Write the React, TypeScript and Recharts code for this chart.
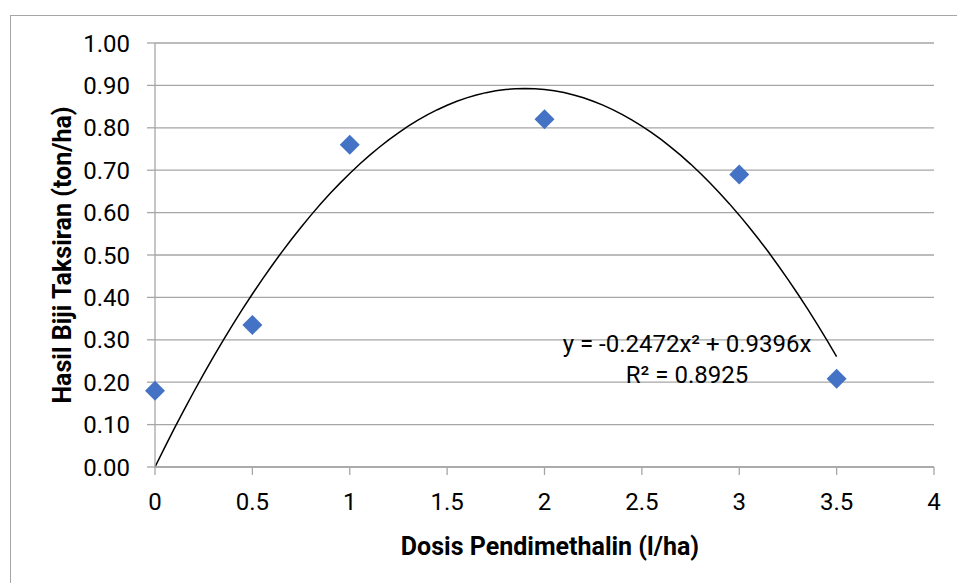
import React from "react";
import {
  ComposedChart,
  Scatter,
  Line,
  XAxis,
  YAxis,
  CartesianGrid,
  Customized,
  Label,
} from "recharts";

const doses = [0, 0.5, 1, 2, 3, 3.5];
const yields = [0.18, 0.335, 0.76, 0.82, 0.69, 0.208];
const xTicks = [0, 0.5, 1, 1.5, 2, 2.5, 3, 3.5, 4];
const yTicks = [0, 0.1, 0.2, 0.3, 0.4, 0.5, 0.6, 0.7, 0.8, 0.9, 1.0];
// Trendline coefficients as printed on the chart: y = a x^2 + b x
const coefA = -0.2472;
const coefB = 0.9396;
const trendStart = 0;
const trendEnd = 3.5;
const trendSteps = 70;

const scatterData = doses.map((x, i) => ({ x, y: yields[i] }));
const trendData = Array.from({ length: trendSteps + 1 }, (_, i) => {
  const x = trendStart + ((trendEnd - trendStart) * i) / trendSteps;
  return { x, t: coefA * x * x + coefB * x };
});

const GRID = "#a6a6a6";
const FONT = "Roboto, 'Noto Sans', sans-serif";

const Diamond = (props: any) => {
  const { cx, cy } = props;
  const r = 10;
  return (
    <polygon
      points={`${cx},${cy - r} ${cx + r},${cy} ${cx},${cy + r} ${cx - r},${cy}`}
      fill="#4472C4"
    />
  );
};

const Equation = () => (
  <g fontFamily={FONT} fontSize={24} fill="#000">
    <text x={687} y={352} textAnchor="middle">
      y = -0.2472x² + 0.9396x
    </text>
    <text x={687} y={383} textAnchor="middle">
      R² = 0.8925
    </text>
  </g>
);

export default function App() {
  return (
    <div
      style={{
        position: "absolute",
        left: 0,
        top: 0,
        width: 957,
        height: 583,
        overflow: "hidden",
        background: "#fff",
      }}
    >
      <div
        style={{
          position: "absolute",
          left: 10,
          top: 15,
          width: 1200,
          height: 1200,
          borderTop: `1.5px solid ${GRID}`,
          borderLeft: `1.5px solid ${GRID}`,
        }}
      />
      <div style={{ position: "absolute", left: 0, top: 0 }}>
        <ComposedChart
          width={957}
          height={583}
          margin={{ top: 43, right: 23, bottom: 0, left: 0 }}
        >
          <CartesianGrid horizontal vertical={false} stroke={GRID} strokeWidth={1.3} />
          <XAxis
            type="number"
            dataKey="x"
            domain={[0, 4]}
            ticks={xTicks}
            height={116}
            tickSize={8}
            tickMargin={18}
            stroke={GRID}
            strokeWidth={1.3}
            tick={{ fill: "#000", fontSize: 24, fontFamily: FONT }}
          >
            <Label
              content={() => (
                <text
                  x={550}
                  y={555}
                  textAnchor="middle"
                  fontFamily={FONT}
                  fontSize={25}
                  fontWeight="bold"
                  fill="#000"
                >
                  Dosis Pendimethalin (l/ha)
                </text>
              )}
            />
          </XAxis>
          <YAxis
            type="number"
            domain={[0, 1]}
            ticks={yTicks}
            width={155}
            tickSize={8}
            tickMargin={17}
            stroke={GRID}
            strokeWidth={1.3}
            tickFormatter={(v: number) => v.toFixed(2)}
            tick={{ fill: "#000", fontSize: 24, fontFamily: FONT }}
          >
            <Label
              content={() => (
                <text
                  x={71}
                  y={255}
                  transform="rotate(-90, 71, 255)"
                  textAnchor="middle"
                  fontFamily={FONT}
                  fontSize={25}
                  fontWeight="bold"
                  fill="#000"
                >
                  Hasil Biji Taksiran (ton/ha)
                </text>
              )}
            />
          </YAxis>
          <Line
            data={trendData}
            dataKey="t"
            type="linear"
            stroke="#000"
            strokeWidth={1.5}
            dot={false}
            activeDot={false}
            isAnimationActive={false}
          />
          <Scatter
            data={scatterData}
            dataKey="y"
            shape={<Diamond />}
            isAnimationActive={false}
          />
          <Customized component={Equation} />
        </ComposedChart>
      </div>
    </div>
  );
}
